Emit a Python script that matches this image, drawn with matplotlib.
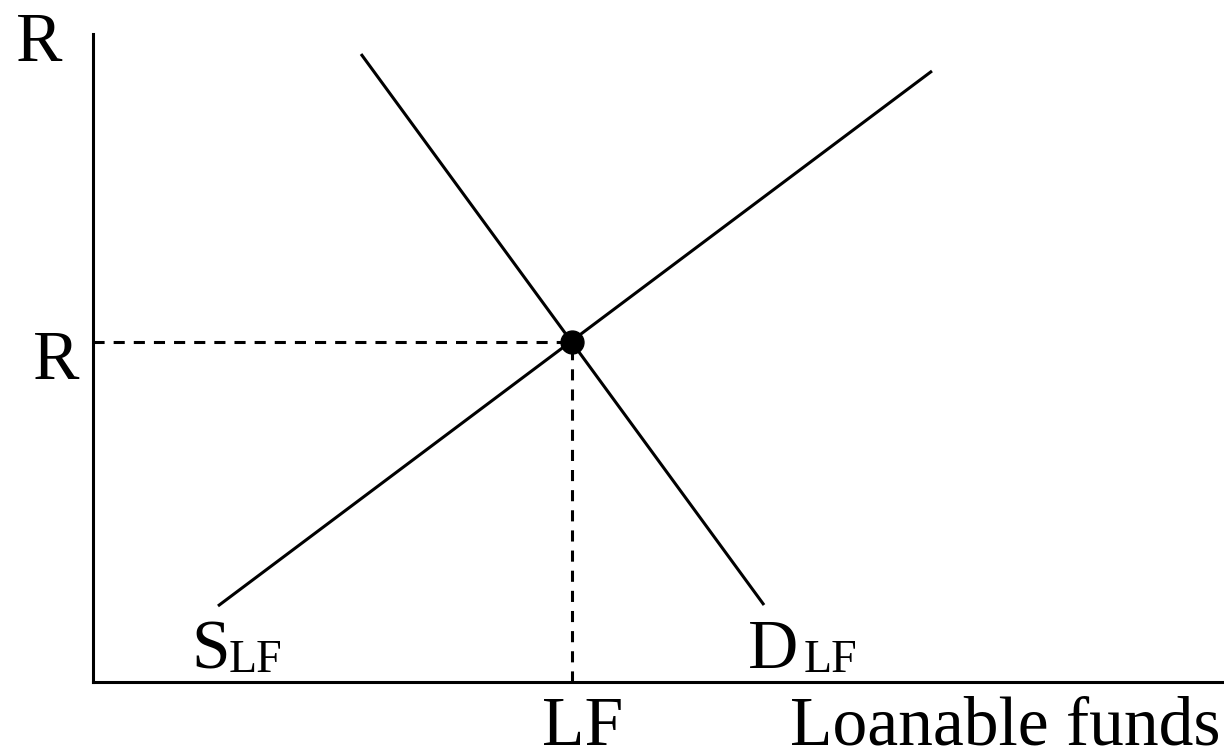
import matplotlib
matplotlib.use('Agg')
import matplotlib.pyplot as plt

# loanable funds diagram, units 0..100 on both axes
supply_x = [11.05, 74.18]
supply_y = [11.73, 94.29]
demand_x = [23.70, 59.33]
demand_y = [96.91, 11.88]
eq_x, eq_y = 42.35, 52.4

plt.rcParams['font.family'] = ['Liberation Serif', 'DejaVu Serif']
plt.rcParams['lines.scale_dashes'] = False

fig = plt.figure(figsize=(12.24, 7.52), dpi=100)
ax = fig.add_axes([93 / 1224, 70 / 752, 1131 / 1224, 648 / 752])
ax.set_xlim(0, 100)
ax.set_ylim(0, 100)

lw = 2.2
ax.plot(supply_x, supply_y, color='black', lw=lw, solid_capstyle='butt', clip_on=False)
ax.plot(demand_x, demand_y, color='black', lw=lw, solid_capstyle='butt', clip_on=False)

dash = (0, (8, 6.5))
ax.plot([0, eq_x], [eq_y, eq_y], color='black', lw=lw, linestyle=dash)
ax.plot([eq_x, eq_x], [0, eq_y], color='black', lw=lw, linestyle=dash)
ax.plot([eq_x], [eq_y], 'o', color='black', markersize=16.5, zorder=5)

for side in ['top', 'right']:
    ax.spines[side].set_visible(False)
for side in ['left', 'bottom']:
    ax.spines[side].set_linewidth(lw)
ax.set_xticks([])
ax.set_yticks([])

big = 50
small = 33
ax.text(-4.75, 95.8, 'R', fontsize=big, ha='center', va='baseline', clip_on=False)
ax.text(-3.3, 46.8, 'R', fontsize=big, ha='center', va='baseline', clip_on=False)
ax.text(eq_x + 0.9, -9.7, 'LF', fontsize=big, ha='center', va='baseline', clip_on=False)
ax.text(99.7, -9.7, 'Loanable funds', fontsize=big, ha='right', va='baseline', clip_on=False)

ax.text(8.7, 2.15, 'S', fontsize=big, ha='left', va='baseline', clip_on=False)
ax.text(11.95, 1.55, 'LF', fontsize=small, ha='left', va='baseline', clip_on=False)
ax.text(57.9, 2.15, 'D', fontsize=big, ha='left', va='baseline', clip_on=False)
ax.text(62.8, 1.55, 'LF', fontsize=small, ha='left', va='baseline', clip_on=False)

fig.savefig('out.png', dpi=100)
plt.close(fig)
